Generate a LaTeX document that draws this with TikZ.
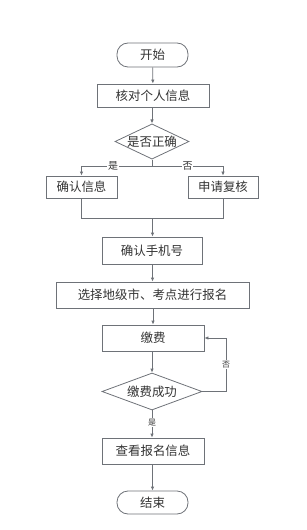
\documentclass[tikz,border=0pt]{standalone}
\usepackage{fontspec}
\setmainfont{Noto Sans CJK SC}
\usetikzlibrary{shapes.geometric,arrows.meta}
\definecolor{edge}{HTML}{6E7278}
\definecolor{txt}{HTML}{333333}
\begin{document}
\begin{tikzpicture}[x=1bp,y=-1bp,
  box/.style={draw=edge,line width=0.8bp,rectangle,minimum height=#1,inner sep=0pt,font=\fontsize{12.5}{14}\selectfont,text=txt},
  term/.style={draw=edge,line width=0.8bp,rounded rectangle,rounded corners=12bp,minimum width=71bp,minimum height=#1,inner sep=0pt,font=\fontsize{12.5}{14}\selectfont,text=txt},
  dia/.style={draw=edge,line width=0.8bp,diamond,aspect=2.1,inner sep=0pt,font=\fontsize{12.5}{14}\selectfont,text=txt},
  arr/.style={draw=edge,line width=0.8bp,-{Latex[length=4bp,width=3.5bp]}},
  ln/.style={draw=edge,line width=0.8bp},
  lab/.style={fill=white,inner sep=1bp,text=txt,font=\fontsize{#1}{#1}\selectfont}
]
\useasboundingbox (0,0) rectangle (306,530);
\node[box=24bp,minimum width=71bp,rounded corners=11bp] (start) at (152.5,55) {开始};
\node[box=23bp,minimum width=112bp] (check) at (153,95.5) {核对个人信息};
\node[dia,minimum width=70bp,minimum height=33bp] (ok) at (152,141.5) {是否正确};
\node[box=22bp,minimum width=71bp] (conf) at (81.5,187) {确认信息};
\node[box=22bp,minimum width=70bp] (review) at (223,187) {申请复核};
\node[box=27bp,minimum width=100bp] (phone) at (152,250.5) {确认手机号};
\node[box=26bp,minimum width=193bp] (select) at (152.5,295) {选择地级市、考点进行报名};
\node[box=26bp,minimum width=102bp] (pay) at (153,338) {缴费};
\node[dia,minimum width=100bp,minimum height=37bp] (payok) at (152,391.5) {缴费成功};
\node[box=26bp,minimum width=102bp] (view) at (153,451) {查看报名信息};
\node[box=23bp,minimum width=71bp,rounded corners=11bp] (end) at (152.5,502.5) {结束};

\coordinate (split) at (152,166);
\coordinate (join) at (152.5,218);
\coordinate (loop) at (226,391.5);

\draw[arr] (start) -- (check);
\draw[arr] (check.south -| ok.north) -- (ok);
\draw[ln] (ok.south) -- (split);
\draw[arr] (split) -- node[lab=10,pos=0.55] {是} (split -| conf) -- (conf);
\draw[arr] (split) -- node[lab=10,pos=0.5] {否} (split -| review) -- (review);
\draw[ln] (conf.south) -- (conf.south |- join) -- (review.south |- join) -- (review.south);
\draw[arr] (join) -- (phone.north -| join);
\draw[arr] (phone.south -| select.north) -- (select);
\draw[arr] (select.south -| pay.north) -- (pay);
\draw[arr] (pay.south -| payok.north) -- (payok);
\draw[arr] (payok) -- node[lab=8,pos=0.45] {是} (view.north -| payok.south);
\draw[arr] (view.south -| end.north) -- (end);
\draw[arr] (payok.east) -- (loop) -- node[lab=8,pos=0.5] {否} (loop |- pay) -- (pay.east);
\end{tikzpicture}
\end{document}
